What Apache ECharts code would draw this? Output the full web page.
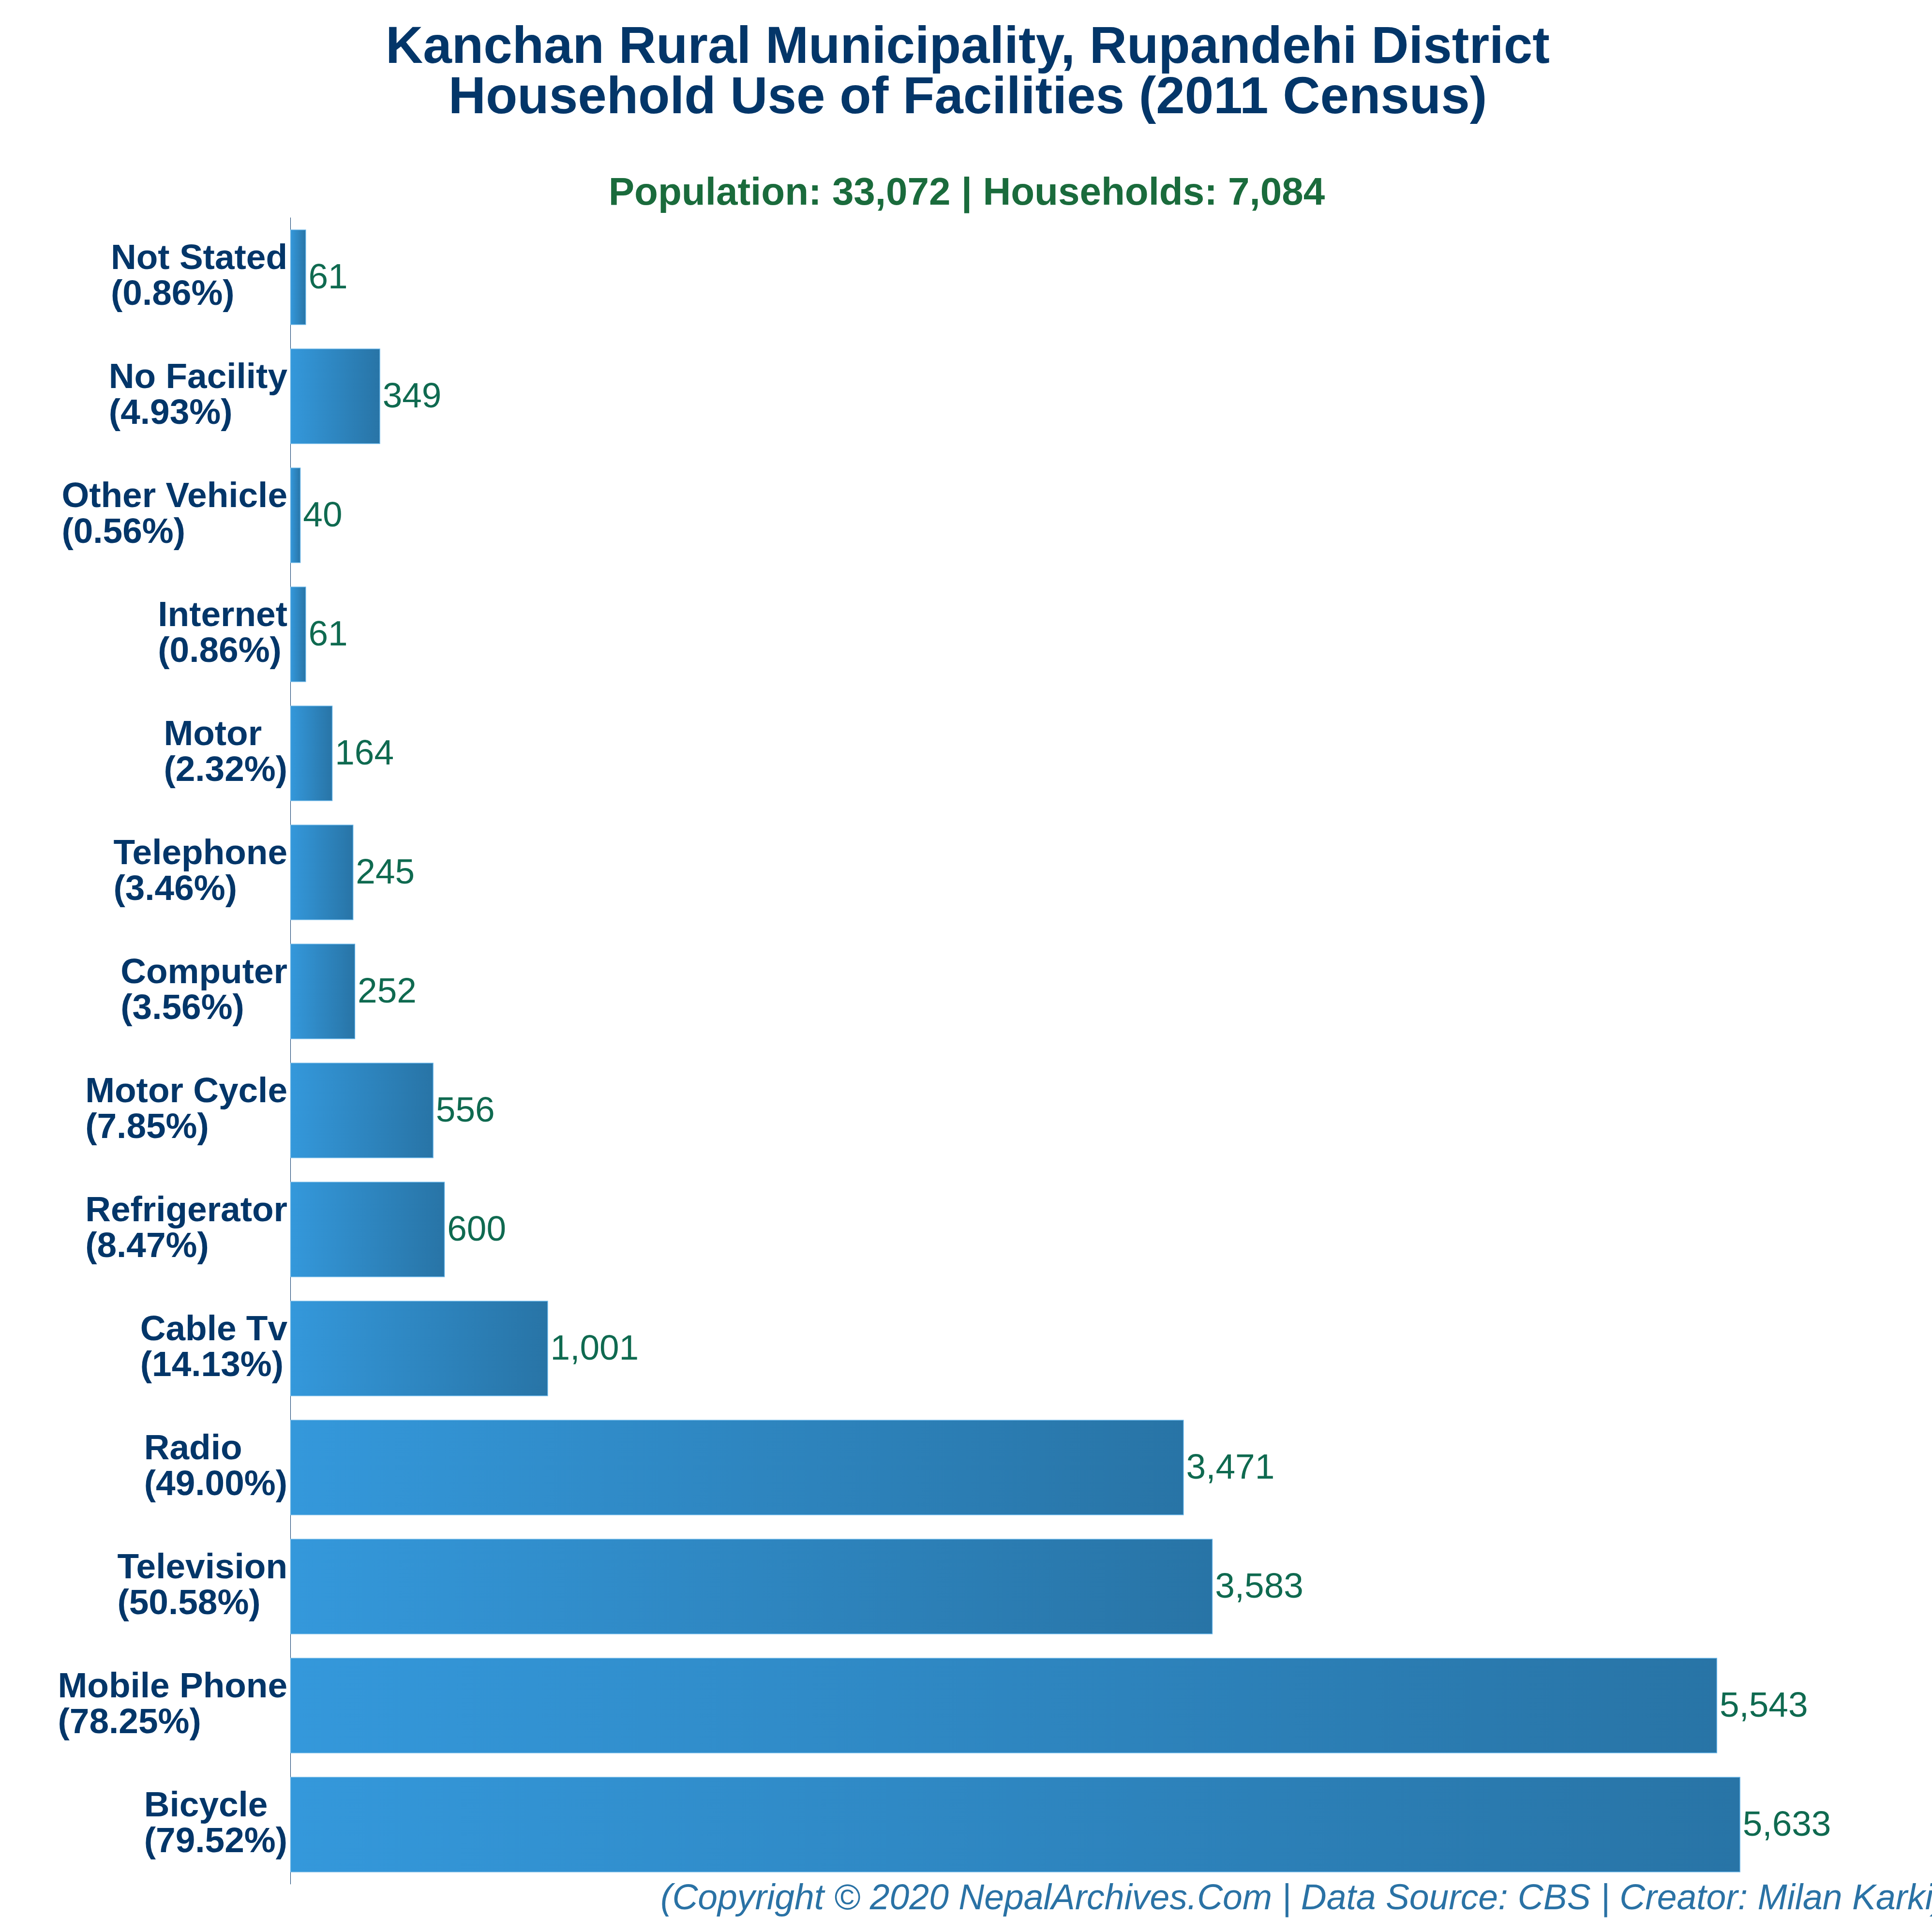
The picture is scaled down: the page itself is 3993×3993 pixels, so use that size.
<!DOCTYPE html>
<html><head><meta charset="utf-8">
<script src="https://cdn.jsdelivr.net/npm/echarts@6/dist/echarts.min.js"></script>
<style>html,body{margin:0;background:#fff}#c{width:3993px;height:3993px}</style></head>
<body><div id="c"></div>
<script>
const categories = ["Bicycle","Mobile Phone","Television","Radio","Cable Tv","Refrigerator","Motor Cycle","Computer","Telephone","Motor","Internet","Other Vehicle","No Facility","Not Stated"];
const percents = ["79.52","78.25","50.58","49.00","14.13","8.47","7.85","3.56","3.46","2.32","0.86","0.56","4.93","0.86"];
const households = [5633,5543,3583,3471,1001,600,556,252,245,164,61,40,349,61];
const titleText = "Kanchan Rural Municipality, Rupandehi District\nHousehold Use of Facilities (2011 Census)";
const subtitleText = "Population: 33,072 | Households: 7,084";
const footerText = "(Copyright © 2020 NepalArchives.Com | Data Source: CBS | Creator: Milan Karki)";
const FONT = "Liberation Sans";
const chart = echarts.init(document.getElementById('c'), null, {renderer:'canvas', width:3993, height:3993});
chart.setOption({
  backgroundColor:'#ffffff',
  animation:false,
  title:[
    {text:titleText,left:1995,top:43,textAlign:'center',textStyle:{fontFamily:FONT,fontSize:107,fontWeight:'bold',color:'#033669',lineHeight:104}},
    {text:subtitleText,left:1993,top:356,textAlign:'center',textStyle:{fontFamily:FONT,fontSize:80,fontWeight:'bold',color:'#1a6b3c'}},
    {text:footerText,left:1360,top:3884,textStyle:{fontFamily:FONT,fontSize:73.3,fontStyle:'italic',fontWeight:'normal',color:'#2a72a5'}}
  ],
  grid:{left:600,top:450,width:3192,height:3444,containLabel:false},
  xAxis:{type:'value',min:0,max:6000,show:false,splitLine:{show:false}},
  yAxis:{type:'category',data:categories.map((c,i)=>c+'|'+percents[i]),
    axisLine:{show:true,lineStyle:{color:'#033669',width:1}},axisTick:{show:false},
    axisLabel:{margin:6,align:'right',verticalAlign:'middle',interval:0,
      formatter:v=>{const p=v.split('|');return '{a|'+p[0]+'}\n{a|('+p[1]+'%)}';},
      rich:{a:{align:'left',fontFamily:FONT,fontSize:73,fontWeight:'bold',color:'#033669',lineHeight:74}}}},
  series:[{type:'bar',data:households,barCategoryGap:'20%',
    itemStyle:{borderColor:'#5dade2',borderWidth:1.5,color:new echarts.graphic.LinearGradient(0,0,1,0,[{offset:0,color:'#3498db'},{offset:1,color:'#2874a6'}])},
    label:{show:true,position:'right',distance:5,offset:[0,3],fontFamily:FONT,fontSize:73,color:'#0f6a50',formatter:p=>p.value.toLocaleString('en-US')}}]
});
</script></body></html>
